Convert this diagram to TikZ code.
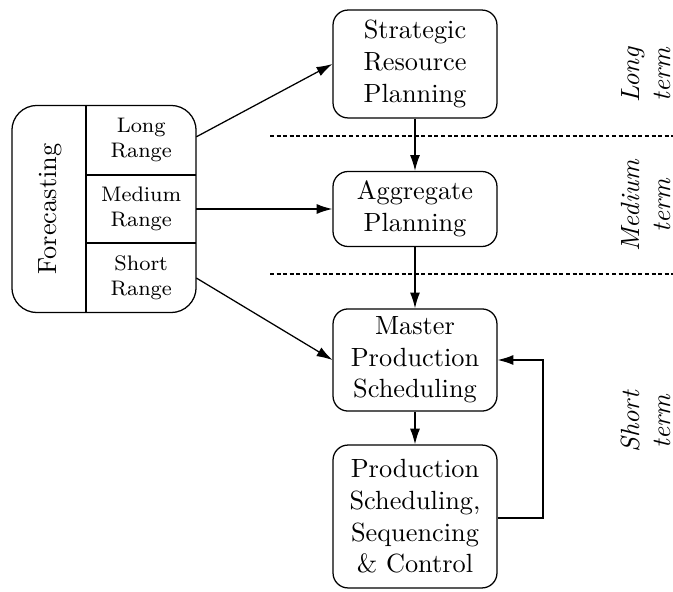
\documentclass[tikz,border=0pt]{standalone}
\usetikzlibrary{arrows.meta}
\begin{document}
\begin{tikzpicture}[x=0.38pt,y=-0.38pt, line width=0.48pt,
  plan/.style={draw, rounded corners=5.7pt, minimum width=62.3pt, align=center, inner sep=1pt},
  cell/.style={minimum width=41.4pt, minimum height=26.2pt, align=center, inner sep=0pt, font=\footnotesize},
  horizon/.style={rotate=90, align=center, font=\itshape},
  flow/.style={-{Latex[length=6pt,width=3.8pt]}},
  sep/.style={line width=0.4pt, dash pattern=on 1.5pt off 1pt}]
  \useasboundingbox (0,0) rectangle (673,592);

  % planning levels
  \node[plan, minimum height=41pt]   (srp) at (415,64)  {Strategic\\Resource\\Planning};
  \node[plan, minimum height=28.5pt] (ap)  at (415,209) {Aggregate\\Planning};
  \node[plan, minimum height=38.8pt] (mps) at (415,360) {Master\\Production\\Scheduling};
  \node[plan, minimum height=54.3pt] (psc) at (415,516.5) {Production\\Scheduling,\\Sequencing\\\& Control};

  % forecasting block with its three ranges
  \node[draw, rounded corners=9.5pt, minimum width=70pt, minimum height=78.7pt] (fc) at (104,209) {};
  \node[rotate=90] (fct) at (50,209) {Forecasting};
  \node[cell] (lr) at (141.2,140)   {Long\\Range};
  \node[cell] (mr) at (141.2,209)   {Medium\\Range};
  \node[cell] (sr) at (141.2,278)   {Short\\Range};
  \draw (lr.north west) -- (sr.south west);
  \draw (lr.south west) -- (lr.south east);
  \draw (sr.north west) -- (sr.north east);

  % horizon separators
  \coordinate (d1a) at (270,136);
  \coordinate (d1b) at (673,136);
  \coordinate (d2a) at (270,274);
  \coordinate (d2b) at (673,274);
  \draw[sep] (d1a) -- (d1b);
  \draw[sep] (d2a) -- (d2b);

  % horizon labels
  \node[horizon] (lt) at (646,75)  {Long\\term};
  \node[horizon] (mt) at (646,206) {Medium\\term};
  \node[horizon] (st) at (646,422) {Short\\term};

  % flows
  \draw[flow] ([yshift=1.2pt]lr.east) -- (srp.west);
  \draw[flow] (mr.east) -- (ap.west);
  \draw[flow] (sr.east) -- (mps.west);
  \draw[flow] (srp) -- (ap);
  \draw[flow] (ap) -- (mps);
  \draw[flow] (mps) -- (psc);
  \coordinate (fb) at (543,518);
  \draw[flow] (psc.east |- fb) -- (fb) |- (mps.east);
\end{tikzpicture}
\end{document}
